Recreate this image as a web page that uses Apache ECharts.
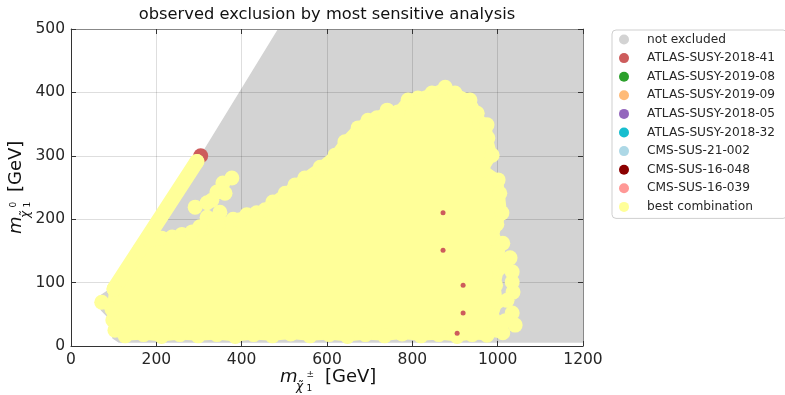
<!DOCTYPE html>
<html><head><meta charset="utf-8">
<script src="https://cdn.jsdelivr.net/npm/echarts@6/dist/echarts.min.js"></script>
<style>html,body{margin:0;padding:0;background:#fff}#c{width:785px;height:395px}</style>
</head><body><div id="c"></div>
<script>
// ---- data (GeV) ----
const xTicks = [0, 200, 400, 600, 800, 1000, 1200];
const yTicks = [0, 100, 200, 300, 400, 500];
const titleText = 'observed exclusion by most sensitive analysis';
const legendNames = ['not excluded', 'ATLAS-SUSY-2018-41', 'ATLAS-SUSY-2019-08', 'ATLAS-SUSY-2019-09',
  'ATLAS-SUSY-2018-05', 'ATLAS-SUSY-2018-32', 'CMS-SUS-21-002', 'CMS-SUS-16-048', 'CMS-SUS-16-039', 'best combination'];
const legendColors = ['#d3d3d3', '#cd5c5c', '#2ca02c', '#ffbb78', '#9467bd', '#17becf', '#add8e6', '#8b0000', '#ff9896', '#ffff99'];

// region covered by "not excluded" grid points (outline vertices)
const notExcludedRegion = [[485,500],[1200,500],[1200,5],[112,5],[97,12],[92,26],[86,45],[70,56],[63,68],[70,81],[95,92],[300,297]];
// best combination: outline circle centres of the dense excluded region
const bestCombinationOutline = [
  [127,16],[103,25],[98,41],[96,58],[101,90],[160,150],[190,168],[213,170],[237,172],[260,176],[284,180],[310,186],
  [345,190],[380,200],[396,199],[412,207],[435,210],[455,215],[473,227],[502,241],[525,254],[548,265],[584,282],
  [619,301],[642,322],[673,344],[696,356],[717,360],[741,372],[766,369],[790,388],[813,391],[846,399],[877,408],
  [900,399],[935,388],[952,367],[959,352],[975,349],[977,328],[987,301],[966,278],[1001,262],[1005,241],[1010,210],
  [998,192],[990,170],[1000,150],[1003,122],[995,96],[1000,70],[988,45],[998,25],[975,17],
  [940,18],[905,15],[862,18],[820,16],[776,19],[735,16],[690,18],[648,15],[605,18],[560,16],[515,19],[472,16],[428,18],
  [385,15],[342,18],[298,16],[255,18],[212,15],[170,18]
];
// dense row of best-combination points along the compressed diagonal (end points)
const bestCombinationBand = [[101,90],[295,291]];
// isolated best-combination points
const bestCombinationPoints = [[72,69],[291,219],[302,188],[319,203],[319,226],[330,230],[342,194],[349,211],
  [342,243],[356,257],[361,241],[377,265],
  [1012,162],[1029,139],[1034,117],[1034,101],[1036,85],[1034,52],[1041,33],[1012,21],
  [1022,72],[1018,40],[1015,130]];
// ATLAS-SUSY-2018-41 points (mostly hidden behind best combination)
const atlas201841Points = [[304,300]];
const atlas201841Visible = [[872,210],[872,151],[919,96],[919,52],[905,20]];

// ---- chart ----
const FONT = '"DejaVu Sans"';
const chart = echarts.init(document.getElementById('c'), null, {renderer: 'canvas'});

function polygonRenderer(points, fill, stroke, lw) {
  return function (params, api) {
    if (params.dataIndex !== 0) return null;
    const pts = points.map(p => api.coord(p));
    return {type: 'polygon', shape: {points: pts},
      style: {fill: fill, stroke: stroke, lineWidth: lw, lineJoin: 'round'}};
  };
}

const xMin = xTicks[0], xMax = xTicks[xTicks.length - 1], xInt = xTicks[1] - xTicks[0];
const yMin = yTicks[0], yMax = yTicks[yTicks.length - 1], yInt = yTicks[1] - yTicks[0];

function axisCommon(showLabel, lineColor, isY) {
  return {
    type: 'value', min: isY ? yMin : xMin, max: isY ? yMax : xMax, interval: isY ? yInt : xInt,
    axisLine: {show: true, onZero: false, lineStyle: {color: lineColor, width: 1}},
    axisTick: {show: true, inside: true, length: 5, lineStyle: {color: '#333', width: 1}},
    axisLabel: {show: showLabel, margin: 6, fontSize: 15.5, fontFamily: FONT, color: '#262626',
      showMinLabel: true, showMaxLabel: true, formatter: v => String(v)},
    splitLine: {show: showLabel, lineStyle: {color: 'rgba(0,0,0,0.13)', width: 1}},
    z: 3
  };
}

const emptySeries = legendNames.slice(2, 9).map((n, i) => ({
  name: n, type: 'scatter', data: [], itemStyle: {color: legendColors[i + 2], opacity: 1}
}));

const option = {
  animation: false,
  backgroundColor: '#fff',
  grid: {left: 71, top: 29, width: 512, height: 317},
  xAxis: [
    Object.assign(axisCommon(true, '#333', false), {position: 'bottom'}),
    Object.assign(axisCommon(false, '#888', false), {position: 'top'})
  ],
  yAxis: [
    Object.assign(axisCommon(true, '#333', true), {position: 'left'}),
    Object.assign(axisCommon(false, '#888', true), {position: 'right'})
  ],
  legend: {
    data: legendNames.map((n, i) => ({name: n, itemStyle: {color: legendColors[i], opacity: 1, borderWidth: 0}})),
    left: 612, top: 30, orient: 'vertical',
    icon: 'circle', itemWidth: 20, itemHeight: 10, itemGap: 5.6,
    padding: [3, 12, 5, 7],
    backgroundColor: '#fff', borderColor: '#cfcfcf', borderWidth: 1, borderRadius: 4,
    textStyle: {fontFamily: FONT, fontSize: 12.2, color: '#262626', lineHeight: 13, padding: [0, 0, 0, 8]},
    selectedMode: false
  },
  graphic: [
    {type: 'text', x: 327, y: 15, style: {text: titleText, font: '16.3px ' + FONT, fill: '#111', align: 'center', verticalAlign: 'middle'}},
    {type: 'group', x: 280, y: 377, children: [
      {type: 'text', x: 0, y: 0, style: {text: 'm', font: 'italic 18px ' + FONT, fill: '#111', verticalAlign: 'middle'}},
      {type: 'text', x: 16, y: 10, style: {text: 'χ̃', font: 'italic 12px ' + FONT, fill: '#111', verticalAlign: 'middle'}},
      {type: 'text', x: 26.5, y: -2, style: {text: '±', font: '9px ' + FONT, fill: '#111', verticalAlign: 'middle'}},
      {type: 'text', x: 26.5, y: 12, style: {text: '1', font: '9px ' + FONT, fill: '#111', verticalAlign: 'middle'}},
      {type: 'text', x: 45, y: 0, style: {text: '[GeV]', font: '18px ' + FONT, fill: '#111', verticalAlign: 'middle'}}
    ]},
    {type: 'group', x: 16, y: 234, rotation: Math.PI / 2, children: [
      {type: 'text', x: 0, y: 0, style: {text: 'm', font: 'italic 18px ' + FONT, fill: '#111', verticalAlign: 'middle'}},
      {type: 'text', x: 16, y: 10, style: {text: 'χ̃', font: 'italic 12px ' + FONT, fill: '#111', verticalAlign: 'middle'}},
      {type: 'text', x: 26.5, y: -2, style: {text: '0', font: '9px ' + FONT, fill: '#111', verticalAlign: 'middle'}},
      {type: 'text', x: 26.5, y: 12, style: {text: '1', font: '9px ' + FONT, fill: '#111', verticalAlign: 'middle'}},
      {type: 'text', x: 42, y: 0, style: {text: '[GeV]', font: '18px ' + FONT, fill: '#111', verticalAlign: 'middle'}}
    ]}
  ],
  series: [
    {name: legendNames[0], type: 'custom', data: notExcludedRegion, encode: {x: 0, y: 1}, clip: true, z: 1,
      itemStyle: {color: legendColors[0]}, silent: true,
      renderItem: polygonRenderer(notExcludedRegion, legendColors[0], null, 0)},
    {name: legendNames[1], type: 'scatter', data: atlas201841Points, symbolSize: 15, z: 4,
      itemStyle: {color: legendColors[1], opacity: 1, borderWidth: 0}, silent: true},
    ...emptySeries,
    {name: legendNames[9], type: 'custom', data: bestCombinationOutline, encode: {x: 0, y: 1}, clip: true, z: 5,
      itemStyle: {color: legendColors[9]}, silent: true,
      renderItem: polygonRenderer(bestCombinationOutline, legendColors[9], legendColors[9], 10)},
    {name: legendNames[9], type: 'scatter', data: bestCombinationOutline.concat(bestCombinationPoints, bestCombinationBand),
      symbolSize: 15, z: 5, itemStyle: {color: legendColors[9], opacity: 1, borderWidth: 0}, silent: true},
    {name: legendNames[9], type: 'line', data: bestCombinationBand, symbol: 'none', z: 5, silent: true,
      itemStyle: {color: legendColors[9]},
      lineStyle: {color: legendColors[9], width: 15, cap: 'round', opacity: 1}},
    {name: legendNames[1] , type: 'scatter', data: atlas201841Visible, symbolSize: 5, z: 6,
      itemStyle: {color: legendColors[1], opacity: 1, borderWidth: 0}, silent: true}
  ]
};
chart.setOption(option);
</script>
</body></html>
